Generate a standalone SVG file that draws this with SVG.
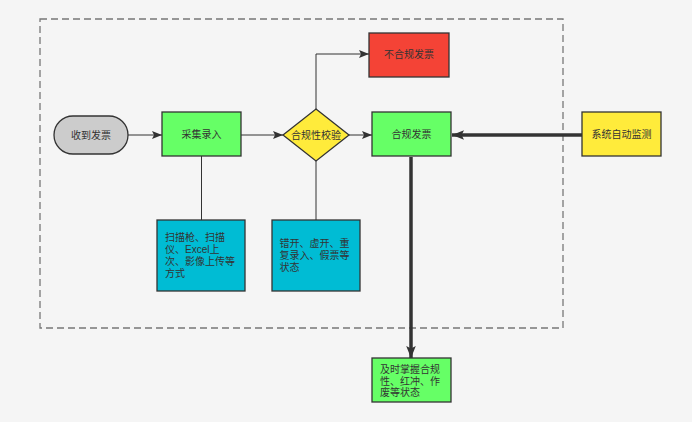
<svg xmlns="http://www.w3.org/2000/svg" width="692" height="422" viewBox="0 0 692 422">
<style>
.n{stroke:#333;stroke-width:1.3}
.t{font-family:"Liberation Sans","Noto Sans CJK SC",sans-serif;font-size:10px;fill:#333}
.c{text-anchor:middle;dominant-baseline:central}
.thin{stroke:#333;stroke-width:1;fill:none}
.thick{stroke:#333;stroke-width:3.5;fill:none}
</style>
<defs>
<marker id="a" viewBox="0 0 10 10" refX="10" refY="5" markerWidth="10" markerHeight="10" markerUnits="userSpaceOnUse" orient="auto"><path d="M0,1 L10,5 L0,9 L2,5 Z" fill="#333"/></marker>
<marker id="ab" viewBox="0 0 10 10" refX="10" refY="5" markerWidth="12" markerHeight="12" markerUnits="userSpaceOnUse" orient="auto"><path d="M0,1 L10,5 L0,9 L2,5 Z" fill="#333"/></marker>
</defs>
<rect width="692" height="422" fill="#f5f5f5"/>
<rect x="40" y="19" width="523" height="309" fill="none" stroke="#777" stroke-width="1.3" stroke-dasharray="7,4"/>
<g id="connectors">
<line class="thin" x1="128" y1="135" x2="162" y2="135" marker-end="url(#a)"/>
<line class="thin" x1="241" y1="135" x2="283" y2="135" marker-end="url(#a)"/>
<line class="thin" x1="348" y1="135" x2="372" y2="135" marker-end="url(#a)"/>
<polyline class="thin" points="316,109 316,54 369,54" marker-end="url(#a)"/>
<line class="thin" x1="201.5" y1="156" x2="201.5" y2="220"/>
<line class="thin" x1="316" y1="161" x2="316" y2="220"/>
<line class="thick" x1="582" y1="135" x2="452" y2="135" marker-end="url(#ab)"/>
<line class="thick" x1="411" y1="157" x2="411" y2="358" marker-end="url(#ab)"/>
</g>
<g id="n1"><rect class="n" x="54" y="116" width="74" height="38" rx="19" fill="#cccccc"/><text class="t c" x="91" y="135">收到发票</text></g>
<g id="n2"><rect class="n" x="162" y="112" width="79" height="44" fill="#66ff66"/><text class="t c" x="201.5" y="134">采集录入</text></g>
<g id="n3"><polygon class="n" points="316,109 349,135 316,161 283,135" fill="#ffeb3b"/><text class="t c" x="316" y="135">合规性校验</text></g>
<g id="n4"><rect class="n" x="369" y="33" width="80" height="44" fill="#f44336"/><text class="t c" x="409" y="54">不合规发票</text></g>
<g id="n5"><rect class="n" x="372" y="112" width="79" height="44" fill="#66ff66"/><text class="t c" x="411.5" y="134">合规发票</text></g>
<g id="n6"><rect class="n" x="582" y="112" width="79" height="44" fill="#ffeb3b"/><text class="t c" x="621.5" y="134">系统自动监测</text></g>
<g id="n7"><rect class="n" x="157" y="220" width="88" height="71" fill="#00bcd4"/><text class="t" x="165" y="241">扫描枪、扫描<tspan x="165" y="253">仪、Excel上</tspan><tspan x="165" y="265">次、影像上传等</tspan><tspan x="165" y="277">方式</tspan></text></g>
<g id="n8"><rect class="n" x="272" y="220" width="88" height="71" fill="#00bcd4"/><text class="t" x="279.5" y="246.5">错开、虚开、重<tspan x="279.5" y="258.5">复录入、假票等</tspan><tspan x="279.5" y="270.5">状态</tspan></text></g>
<g id="n9"><rect class="n" x="372" y="358" width="79" height="44" fill="#66ff66"/><text class="t" x="380" y="373">及时掌握合规<tspan x="380" y="384.5">性、红冲、作</tspan><tspan x="380" y="396">废等状态</tspan></text></g>
</svg>
